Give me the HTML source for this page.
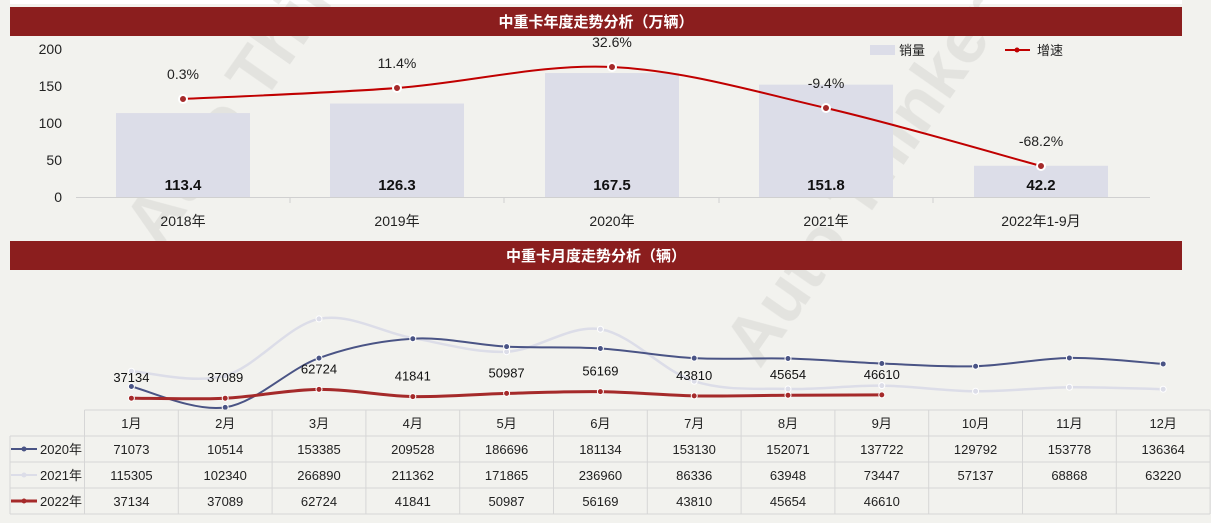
<!DOCTYPE html>
<html><head><meta charset="utf-8"><style>
body{margin:0;background:#f2f2ee;width:1211px;height:518px;overflow:hidden;font-family:"Liberation Sans","Noto Sans CJK SC",sans-serif}
</style></head><body>
<svg id="s" width="1211" height="518" xmlns="http://www.w3.org/2000/svg" font-family="Liberation Sans, Noto Sans CJK SC, sans-serif">
<rect x="0" y="0" width="1211" height="518" fill="#f2f2ee"/>
<rect x="10" y="0" width="1172" height="4" fill="#fff"/>
<g fill="#c8c8c4" opacity="0.35" font-weight="bold">
<text x="0" y="0" font-size="70" transform="translate(160,250) rotate(-55)">Auto Thinker</text>
<text x="0" y="0" font-size="70" transform="translate(760,370) rotate(-55)">Auto Thinker</text>
</g>
<rect x="10" y="7" width="1172" height="29" fill="#8b1e1e"/>
<text x="596" y="27" fill="#fff" font-size="15" font-weight="bold" text-anchor="middle">中重卡年度走势分析（万辆）</text>
<rect x="10" y="241" width="1172" height="29" fill="#8b1e1e"/>
<text x="596" y="261" fill="#fff" font-size="15" font-weight="bold" text-anchor="middle">中重卡月度走势分析（辆）</text>
<g font-size="14" fill="#222" text-anchor="end">
<text x="62" y="54">200</text><text x="62" y="91">150</text><text x="62" y="128">100</text><text x="62" y="165">50</text><text x="62" y="202">0</text>
</g>
<g id="bars" fill="#dcdde8"></g>
<line x1="76" y1="197.5" x2="1150" y2="197.5" stroke="#d0d0d0"/>
<g id="topg"></g>
<rect x="870" y="45" width="25" height="10" fill="#dcdde8"/>
<text x="899" y="55" font-size="13" fill="#222">销量</text>
<line x1="1005" y1="50" x2="1030" y2="50" stroke="#c00000" stroke-width="2"/>
<circle cx="1017" cy="50" r="2.5" fill="#c00000"/>
<text x="1037" y="55" font-size="13" fill="#222">增速</text>
<g id="bot"></g>
<g id="tbl" font-size="13" fill="#222" text-anchor="middle"></g>
</svg>
<script>
const NS="http://www.w3.org/2000/svg";
function el(p,t,a,txt){const e=document.createElementNS(NS,t);for(const k in a)e.setAttribute(k,a[k]);if(txt!==undefined)e.textContent=txt;p.appendChild(e);return e;}
function cr(pts){let d="M"+pts[0][0]+","+pts[0][1];for(let i=0;i<pts.length-1;i++){const p0=pts[i-1]||pts[i],p1=pts[i],p2=pts[i+1],p3=pts[i+2]||p2;const c1=[p1[0]+(p2[0]-p0[0])/6,p1[1]+(p2[1]-p0[1])/6],c2=[p2[0]-(p3[0]-p1[0])/6,p2[1]-(p3[1]-p1[1])/6];d+=" C"+c1+" "+c2+" "+p2;}return d;}
const barsG=document.getElementById("bars"),topG=document.getElementById("topg");
const xs=[183,397,612,826,1041],vals=[113.4,126.3,167.5,151.8,42.2],yrs=["2018年","2019年","2020年","2021年","2022年1-9月"];
const gy=[99,88,67,108,166],gl=["0.3%","11.4%","32.6%","-9.4%","-68.2%"];
xs.forEach((x,i)=>{const h=vals[i]*0.74;el(barsG,"rect",{x:x-67,y:197-h,width:134,height:h});
el(topG,"text",{x:x,y:190,"font-size":15,"font-weight":"bold","text-anchor":"middle",fill:"#111"},vals[i].toFixed(1));
el(topG,"text",{x:x,y:226,"font-size":14,"text-anchor":"middle",fill:"#222"},yrs[i]);
if(i<4)el(topG,"line",{x1:x+107,y1:197,x2:x+107,y2:203,stroke:"#d0d0d0"});});
const gp=xs.map((x,i)=>[x,gy[i]]);
el(topG,"path",{d:cr(gp),fill:"none",stroke:"#c00000","stroke-width":2});
gp.forEach((p,i)=>{el(topG,"circle",{cx:p[0],cy:p[1],r:4,fill:"#a52a2a",stroke:"#fff","stroke-width":2});
el(topG,"text",{x:p[0],y:p[1]-20,"font-size":14,"text-anchor":"middle",fill:"#222"},gl[i]);});
const bot=document.getElementById("bot"),tbl=document.getElementById("tbl");
const d20=[71073,10514,153385,209528,186696,181134,153130,152071,137722,129792,153778,136364];
const d21=[115305,102340,266890,211362,171865,236960,86336,63948,73447,57137,68868,63220];
const d22=[37134,37089,62724,41841,50987,56169,43810,45654,46610];
const cw=93.8,x0=84.5,cx=i=>x0+cw*(i+0.5);
const Y=v=>411-v*0.000345;
function series(d,col,w,fillc){const p=d.map((v,i)=>[cx(i),Y(v)]);el(bot,"path",{d:cr(p),fill:"none",stroke:col,"stroke-width":w});p.forEach(q=>el(bot,"circle",{cx:q[0],cy:q[1],r:3,fill:fillc,stroke:"#fff","stroke-width":1}));}
series(d21,"#dcdde8",2.5,"#dcdde8");
series(d20,"#4a5485",2,"#4a5485");
series(d22,"#a52a2a",3,"#a52a2a");
d22.forEach((v,i)=>el(bot,"text",{x:cx(i),y:Math.min(382,Y(v)-18)+2,"font-size":13,"text-anchor":"middle",fill:"#111"},v));
const rows=[410,436,462,488,514];
rows.forEach((y,i)=>el(tbl,"line",{x1:i==0?x0:10,y1:y,x2:1210,y2:y,stroke:"#d6d6d6"}));
for(let i=0;i<=12;i++){const x=x0+cw*i;el(tbl,"line",{x1:x,y1:410,x2:x,y2:514,stroke:"#d6d6d6"});}
el(tbl,"line",{x1:10,y1:436,x2:10,y2:514,stroke:"#d6d6d6"});
for(let i=0;i<12;i++){el(tbl,"text",{x:cx(i),y:428},(i+1)+"月");
el(tbl,"text",{x:cx(i),y:454},d20[i]);el(tbl,"text",{x:cx(i),y:480},d21[i]);if(i<9)el(tbl,"text",{x:cx(i),y:506},d22[i]);}
[["2020年","#4a5485",2],["2021年","#dcdde8",2],["2022年","#a52a2a",3]].forEach((r,k)=>{const y=449+26*k;
el(tbl,"line",{x1:11,y1:y,x2:37,y2:y,stroke:r[1],"stroke-width":r[2]});el(tbl,"circle",{cx:24,cy:y,r:2.5,fill:r[1]});
el(tbl,"text",{x:61,y:y+5},r[0]);});
</script>
</body></html>
